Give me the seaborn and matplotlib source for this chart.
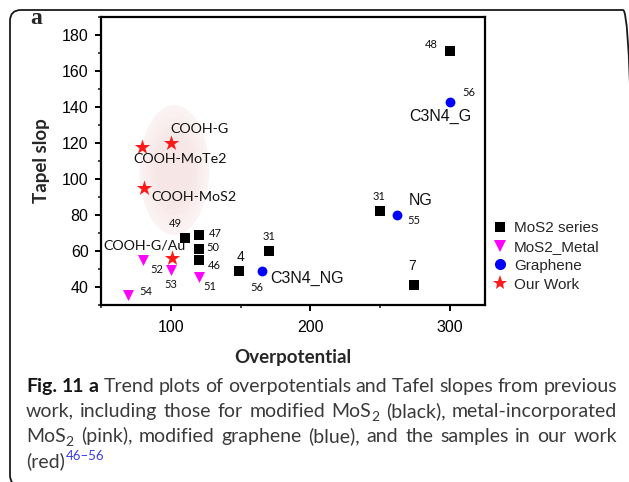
import numpy as np
import pandas as pd
import matplotlib
matplotlib.use('Agg')
import matplotlib.pyplot as plt
import seaborn as sns
from matplotlib.patches import Ellipse, FancyBboxPatch
from matplotlib.transforms import IdentityTransform
from matplotlib.lines import Line2D
from matplotlib.ticker import MultipleLocator

# ---------------- data ----------------
mos2_x = [300, 250, 274, 170, 148.6, 120, 120, 120, 110.2]
mos2_y = [171, 82, 41.3, 60, 49, 55, 61, 69, 67.5]
mos2_ref = ['48', '31', '7', '31', '4', '46', '50', '47', '49']

metal_x = [80.2, 100, 120, 69]
metal_y = [54.8, 49.7, 45.8, 35.8]
metal_ref = ['52', '53', '51', '54']

gr_x = [300, 262, 165.2]
gr_y = [142.9, 80, 49]
gr_ref = ['56', '55', '56']
gr_name = ['C3N4_G', 'NG', 'C3N4_NG']

our_x = [100, 79.3, 80.5, 101]
our_y = [120, 117.8, 95, 56]
our_name = ['COOH-G', 'COOH-MoTe2', 'COOH-MoS2', 'COOH-G/Au']

series_names = ['MoS2 series', 'MoS2_Metal', 'Graphene', 'Our Work']
x_ticks = [100, 200, 300]
y_ticks = [40, 60, 80, 100, 120, 140, 160, 180]

# ---------------- layout / style ----------------
W, H = 629, 482
sns.set_style('ticks')
plt.rcParams['font.family'] = ['Liberation Sans', 'DejaVu Sans']

fig = plt.figure(figsize=(W / 100, H / 100), dpi=100)
ax = fig.add_axes([101 / W, 1 - 305 / H, 384 / W, 288 / H])
ax.set_facecolor('white')

colors = {'MoS2 series': '#000000', 'MoS2_Metal': '#ff00ff',
          'Graphene': '#0000ff', 'Our Work': '#ff1a1a'}
markers = {'MoS2 series': 's', 'MoS2_Metal': 'v', 'Graphene': 'o', 'Our Work': '*'}
sizes = {'MoS2 series': 42, 'MoS2_Metal': 62, 'Graphene': 50, 'Our Work': 135}

# background highlight ellipse (soft)
ax.add_patch(Ellipse((102.5, 105), 50, 72, facecolor='#f5dede',
                     edgecolor='none', alpha=0.35, zorder=0))
for k in np.linspace(0.9, 0.5, 5):
    ax.add_patch(Ellipse((102.5, 105), 50 * k, 72 * k, facecolor='#f0c8c8',
                         edgecolor='none', alpha=0.06, zorder=0))

frames = []
for name, xs, ys in [('MoS2 series', mos2_x, mos2_y), ('MoS2_Metal', metal_x, metal_y),
                     ('Graphene', gr_x, gr_y), ('Our Work', our_x, our_y)]:
    frames.append(pd.DataFrame({'x': xs, 'y': ys, 'series': name}))
df = pd.concat(frames, ignore_index=True)

for name in series_names:
    sub = df[df['series'] == name]
    sns.scatterplot(data=sub, x='x', y='y', ax=ax, color=colors[name],
                    marker=markers[name], s=sizes[name], linewidth=0,
                    legend=False, zorder=3)

ax.set_xlim(50, 325)
ax.set_ylim(30, 190)
ax.set_xticks(x_ticks)
ax.set_yticks(y_ticks)
ax.xaxis.set_minor_locator(MultipleLocator(50))
ax.yaxis.set_minor_locator(MultipleLocator(10))
for s in ax.spines.values():
    s.set_linewidth(1.6)
    s.set_color('black')
ax.tick_params(which='major', direction='out', length=4.5, width=1.4,
               labelsize=11.5, colors='black')
ax.tick_params(axis='x', which='major', pad=6)
ax.tick_params(axis='y', which='major', pad=4.5)
ax.tick_params(which='minor', direction='out', length=2.5, width=1.2)

ax.set_xlabel('Overpotential', family='Lato', fontweight='bold', fontsize=13.5, va='center')
ax.set_ylabel('Tapel slop', family='Lato', fontweight='bold', fontsize=13.5, va='center')
ax.xaxis.set_label_coords(0.5, (305 - 357) / 288)
ax.yaxis.set_label_coords((41 - 101) / 384, 0.5)

# annotations (offsets in pixels)
small = dict(family='Lato', fontsize=8, color='#111111')
arial_mid = dict(family='Liberation Sans', fontsize=10, color='#111111')
arial_big = dict(family='Liberation Sans', fontsize=11.5, color='#111111')
calib = dict(family='Lato', fontsize=10.3, color='#111111')

def lab(txt, x, y, off, props):
    ax.annotate(txt, (x, y), xytext=off, textcoords='offset pixels',
                ha='center', va='center', zorder=4, **props)

mos2_off = [(-18.7, 6.7), (-1, 15), (-2, 18.3), (0, 14), (1.7, 13.6),
            (15.3, -5.7), (14.3, 1.3), (16.5, 1.7), (-9.6, 14)]
for t, x, y, o in zip(mos2_ref, mos2_x, mos2_y, mos2_off):
    lab(t, x, y, o, arial_mid if t in ('4', '7') else small)

metal_off = [(13.5, -9), (0, -15), (11.3, -10.4), (18.3, 3.3)]
for t, x, y, o in zip(metal_ref, metal_x, metal_y, metal_off):
    lab(t, x, y, o, small)

gr_ref_off = [(19, 9), (16.7, -6), (-5.3, -17)]
gr_name_off = [(-10, -14.3), (23.7, 14.7), (45.7, -7.7)]
for t, n, x, y, o1, o2 in zip(gr_ref, gr_name, gr_x, gr_y, gr_ref_off, gr_name_off):
    lab(t, x, y, o1, small)
    lab(n, x, y, o2, arial_big)

our_off = [(28.3, 14.4), (38.5, -12.3), (50.3, -9), (-27.8, 13)]
for n, x, y, o in zip(our_name, our_x, our_y, our_off):
    lab(n, x, y, o, calib)

# legend
handles = [Line2D([], [], linestyle='none', marker=markers[n], color=colors[n],
                  markersize={'MoS2 series': 7, 'MoS2_Metal': 8.5, 'Graphene': 8,
                              'Our Work': 11}[n], markeredgewidth=0)
           for n in series_names]
fig.legend(handles, series_names, loc='upper left',
           bbox_to_anchor=(492.4 / W, 1 - 221 / H), frameon=False,
           fontsize=11, handlelength=1.0, handletextpad=0.4,
           labelspacing=0.32, borderpad=0, borderaxespad=0)

# panel letter
fig.text(36 / W, 1 - 18 / H, 'a', family='Liberation Serif', fontweight='bold',
         fontsize=17, ha='center', va='center')

# rounded frame
fig.patches.append(FancyBboxPatch((10, -4), 624, 482 - 10 + 4,
                                  boxstyle='round,pad=0,rounding_size=11',
                                  transform=IdentityTransform(), fill=False,
                                  edgecolor='#1a1a1a', linewidth=1.3, figure=fig))

# caption
renderer = fig.canvas.get_renderer()
cap_reg = dict(family='Lato', fontsize=14, color='#3a3a3a')
cap_sub = dict(family='Lato', fontsize=10, color='#3a3a3a')
cap_bold = dict(family='Lato', fontsize=14, color='#151515', fontweight='bold')
M2 = [('MoS', cap_reg, 0), ('2', cap_sub, -4)]

def R(w):
    return [(w, cap_reg, 0)]

line1 = [[('Fig.', cap_bold, 0)], [('11', cap_bold, 0)], [('a', cap_bold, 0)]] + \
    [R(w) for w in 'Trend plots of overpotentials and Tafel slopes from previous'.split()]
line2 = [R('work,'), R('including'), R('those'), R('for'), R('modified'), M2,
         R('(black),'), R('metal-incorporated')]
line3 = [M2, R('(pink),'), R('modified'), R('graphene'), R('(blue),'), R('and'),
         R('the'), R('samples'), R('in'), R('our'), R('work')]

def justify(words, x0, x1, base):
    built = []
    for parts in words:
        ts = []
        for s, p, dy in parts:
            t = fig.text(0, 0, s, transform=IdentityTransform(), ha='left',
                         va='baseline', **p)
            ts.append((t, t.get_window_extent(renderer).width, dy))
        built.append(ts)
    widths = [sum(w for _, w, _ in ts) for ts in built]
    gap = (x1 - x0 - sum(widths)) / (len(built) - 1)
    x = x0
    for ts, wd in zip(built, widths):
        xx = x
        for t, w, dy in ts:
            t.set_position((xx, H - base + dy))
            xx += w
        x += wd + gap

justify(line1, 26, 617, 391.7)
justify(line2, 26, 617, 416.7)
justify(line3, 26, 617, 441.7)
t4 = fig.text(26, H - 466.7, '(red)', transform=IdentityTransform(), ha='left',
              va='baseline', **cap_reg)
w4 = t4.get_window_extent(renderer).width
fig.text(26 + w4 + 0.5, H - 459.5, '46–56', transform=IdentityTransform(), ha='left',
         va='baseline', family='Lato', fontsize=9.5, color='#3a3af0')

fig.savefig('out.png', dpi=100, facecolor='white')
